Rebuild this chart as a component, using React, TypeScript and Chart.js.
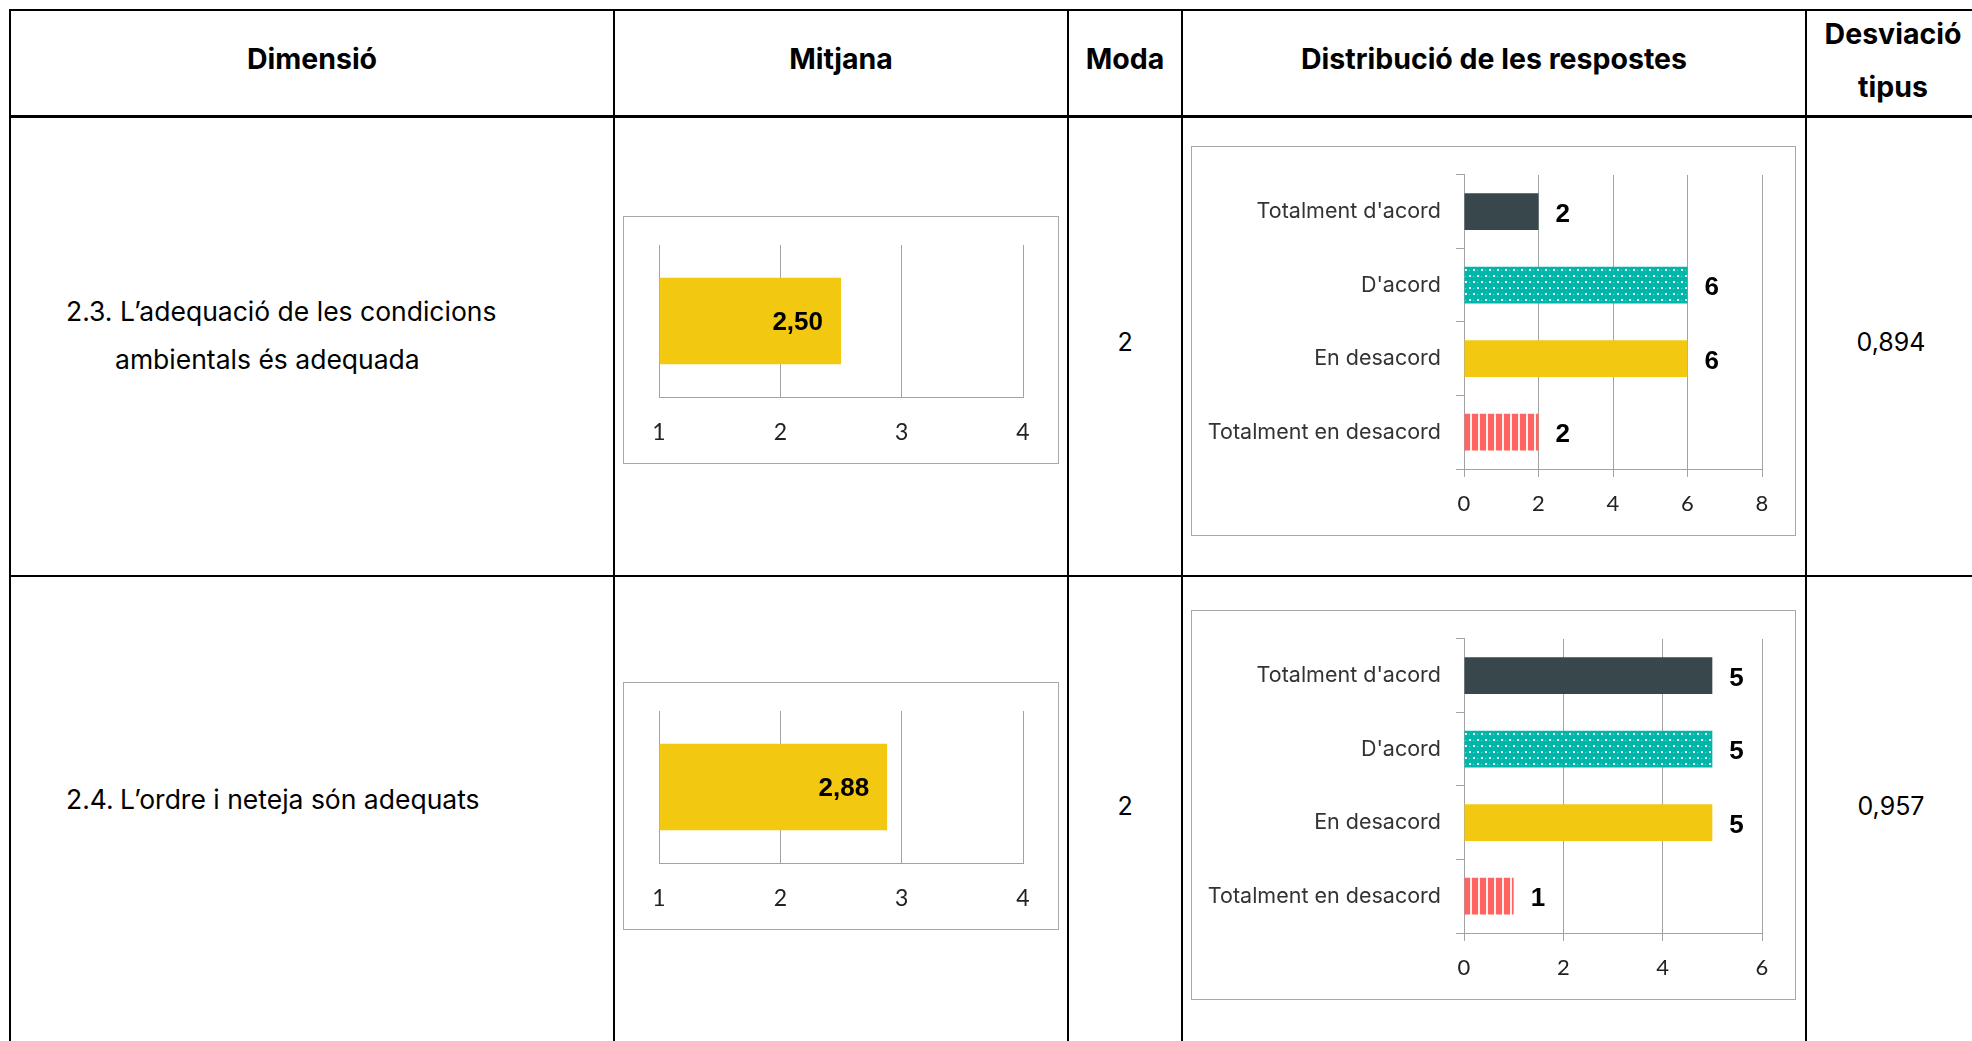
import React, { useEffect, useRef } from "react";
import { Chart, registerables } from "chart.js";

Chart.register(...registerables);

// ---------- data ----------
const headerLabels = ["Dimensió", "Mitjana", "Moda", "Distribució de les respostes"];
const headerLastLines = ["Desviació", "tipus"];
const dimensionNumbers = ["2.3.", "2.4."];
const dimensionFirstLines = ["L’adequació de les condicions", "L’ordre i neteja són adequats"];
const dimensionSecondLines = ["ambientals és adequada", ""];
const meanValues = [2.5, 2.88];
const meanTicks = [1, 2, 3, 4];
const modeValues = ["2", "2"];
const stdValues = ["0,894", "0,957"];
const responseCategories = ["Totalment d'acord", "D'acord", "En desacord", "Totalment en desacord"];
const responses23 = [2, 6, 6, 2];
const responses24 = [5, 5, 5, 1];
const responseAxisMax = [8, 6];

// ---------- styles ----------
const FONT_BODY = "Inter, 'Noto Sans', sans-serif";
const FONT_TICK = "Lato, 'Open Sans', sans-serif";
const FONT_VALUE = "'Liberation Sans', Arial, sans-serif";
const GRID = "#a3a3a3";
const BOX = "#a8a8a8";
const DARK = "#37474b";
const TEAL = "#00b6a9";
const YELLOW = "#f2c811";
const RED = "#ff6461";

function dotsPattern(): CanvasPattern | string {
  const c = document.createElement("canvas");
  c.width = 8;
  c.height = 12;
  const g = c.getContext("2d");
  if (!g) return TEAL;
  g.fillStyle = TEAL;
  g.fillRect(0, 0, 8, 12);
  g.fillStyle = "rgba(255,255,255,0.95)";
  g.fillRect(1, 2, 2, 2);
  g.fillRect(5, 8, 2, 2);
  g.fillStyle = "rgba(255,255,255,0.45)";
  g.fillRect(5, 3, 1, 1);
  g.fillRect(1, 9, 1, 1);
  const p = g.createPattern(c, "repeat");
  return p || TEAL;
}

function stripesPattern(): CanvasPattern | string {
  const c = document.createElement("canvas");
  c.width = 8;
  c.height = 4;
  const g = c.getContext("2d");
  if (!g) return RED;
  g.fillStyle = RED;
  g.fillRect(0, 0, 8, 4);
  g.fillStyle = "rgba(255,255,255,0.9)";
  g.fillRect(6, 0, 2, 4);
  const p = g.createPattern(c, "repeat");
  return p || RED;
}

// ---------- Mitjana chart ----------
function MeanChart({ value, left, top }: { value: number; left: number; top: number }) {
  const ref = useRef<HTMLCanvasElement>(null);
  const W = 434;
  const H = 246;
  useEffect(() => {
    const labelPlugin = {
      id: "meanLabel",
      afterDatasetsDraw(chart: any) {
        const ctx = chart.ctx;
        const meta = chart.getDatasetMeta(0);
        ctx.save();
        ctx.font = `bold 26px ${FONT_VALUE}`;
        ctx.fillStyle = "#000";
        ctx.textAlign = "right";
        ctx.textBaseline = "middle";
        meta.data.forEach((bar: any, i: number) => {
          const v = chart.data.datasets[0].data[i] as number;
          ctx.fillText(v.toFixed(2).replace(".", ","), bar.x - 18, bar.y + 2);
        });
        ctx.restore();
      },
    };
    const chart = new Chart(ref.current!, {
      type: "bar",
      data: {
        labels: [""],
        datasets: [
          {
            data: [value],
            backgroundColor: YELLOW,
            base: 1,
            barPercentage: 0.57,
            categoryPercentage: 1,
          } as any,
        ],
      },
      options: {
        indexAxis: "y",
        animation: false,
        responsive: false,
        maintainAspectRatio: false,
        events: [],
        layout: { padding: { left: 35, right: 35, top: 28, bottom: 0 } },
        plugins: { legend: { display: false }, tooltip: { enabled: false } },
        scales: {
          x: {
            type: "linear",
            min: meanTicks[0],
            max: meanTicks[meanTicks.length - 1],
            afterBuildTicks: (s: any) => {
              s.ticks = meanTicks.map((v) => ({ value: v }));
            },
            ticks: {
              font: { family: FONT_TICK, size: 23 },
              color: "#222",
              padding: 22,
              maxRotation: 0,
            },
            grid: { color: GRID, drawTicks: false, lineWidth: 1 },
            border: { color: GRID },
            afterFit: (s: any) => {
              s.height = 66;
            },
          },
          y: { type: "category", display: false },
        },
      } as any,
      plugins: [labelPlugin],
    });
    return () => chart.destroy();
  }, [value]);
  return (
    <div
      style={{
        position: "absolute",
        left,
        top,
        width: W,
        height: H,
        border: `1px solid ${BOX}`,
        background: "#fff",
      }}
    >
      <canvas ref={ref} width={W} height={H} style={{ display: "block", width: W, height: H }} />
    </div>
  );
}

// ---------- Distribució chart ----------
function DistChart({ values, axisMax, left, top }: { values: number[]; axisMax: number; left: number; top: number }) {
  const ref = useRef<HTMLCanvasElement>(null);
  const W = 603;
  const H = 388;
  useEffect(() => {
    const labelPlugin = {
      id: "distLabel",
      afterDatasetsDraw(chart: any) {
        const ctx = chart.ctx;
        const meta = chart.getDatasetMeta(0);
        ctx.save();
        ctx.font = `bold 26px ${FONT_VALUE}`;
        ctx.fillStyle = "#000";
        ctx.textAlign = "left";
        ctx.textBaseline = "middle";
        meta.data.forEach((bar: any, i: number) => {
          const v = chart.data.datasets[0].data[i] as number;
          ctx.fillText(String(v), bar.x + 17, bar.y + 3);
        });
        ctx.restore();
      },
    };
    const colors = [DARK, dotsPattern(), YELLOW, stripesPattern()];
    const chart = new Chart(ref.current!, {
      type: "bar",
      data: {
        labels: responseCategories,
        datasets: [
          {
            data: values,
            backgroundColor: colors as any,
            barPercentage: 0.5,
            categoryPercentage: 1,
          },
        ],
      },
      options: {
        indexAxis: "y",
        animation: false,
        responsive: false,
        maintainAspectRatio: false,
        events: [],
        layout: { padding: { left: 0, right: 33, top: 26, bottom: 0 } },
        plugins: { legend: { display: false }, tooltip: { enabled: false } },
        scales: {
          x: {
            type: "linear",
            min: 0,
            max: axisMax,
            ticks: {
              stepSize: 2,
              font: { family: FONT_TICK, size: 22 },
              color: "#222",
              padding: 14,
              maxRotation: 0,
            },
            grid: { color: GRID, tickLength: 8, lineWidth: 1 },
            border: { color: GRID },
            afterFit: (s: any) => {
              s.height = 66;
            },
          },
          y: {
            type: "category",
            ticks: {
              font: { family: FONT_BODY, size: 21.5 },
              color: "#333",
              padding: 15,
            },
            grid: { drawOnChartArea: false, tickLength: 8, color: GRID, offset: true },
            border: { color: GRID },
            afterFit: (s: any) => {
              s.width = 272;
            },
          },
        },
      } as any,
      plugins: [labelPlugin],
    });
    return () => chart.destroy();
  }, [values, axisMax]);
  return (
    <div
      style={{
        position: "absolute",
        left,
        top,
        width: W,
        height: H,
        border: `1px solid ${BOX}`,
        background: "#fff",
      }}
    >
      <canvas ref={ref} width={W} height={H} style={{ display: "block", width: W, height: H }} />
    </div>
  );
}

// ---------- table helpers ----------
function HLine({ y, h = 2 }: { y: number; h?: number }) {
  return <div style={{ position: "absolute", left: 9, top: y, width: 1990, height: h, background: "#000" }} />;
}
function VLine({ x }: { x: number }) {
  return <div style={{ position: "absolute", left: x, top: 9, width: 2, height: 1100, background: "#000" }} />;
}
function CenterText({ x, y, children, bold, size }: { x: number; y: number; children: React.ReactNode; bold?: boolean; size: number }) {
  return (
    <div
      style={{
        position: "absolute",
        left: x,
        top: y,
        transform: "translate(-50%, -50%)",
        whiteSpace: "nowrap",
        fontFamily: FONT_BODY,
        fontWeight: bold ? 700 : 400,
        fontSize: size,
        lineHeight: 1,
        color: "#000",
      }}
    >
      {children}
    </div>
  );
}
function LeftText({ x, y, children, size }: { x: number; y: number; children: React.ReactNode; size: number }) {
  return (
    <div
      style={{
        position: "absolute",
        left: x,
        top: y,
        transform: "translateY(-50%)",
        whiteSpace: "nowrap",
        fontFamily: FONT_BODY,
        fontWeight: 400,
        fontSize: size,
        lineHeight: 1,
        color: "#000",
      }}
    >
      {children}
    </div>
  );
}

const colCenters = [312, 841, 1125, 1494];
const rowCenters = [342, 806];

export default function App() {
  const HEAD = 28.5;
  const BODY = 26.5;
  const VAL = 25;
  return (
    <div
      style={{
        position: "fixed",
        left: 0,
        top: 0,
        width: 1972,
        height: 1041,
        overflow: "hidden",
        background: "#fff",
      }}
    >
      {/* grid lines */}
      <HLine y={9} />
      <HLine y={115} h={3} />
      <HLine y={575} />
      <VLine x={9} />
      <VLine x={613} />
      <VLine x={1067} />
      <VLine x={1181} />
      <VLine x={1805} />

      {/* header */}
      {headerLabels.map((t, i) => (
        <CenterText key={t} x={colCenters[i]} y={59} bold size={HEAD}>
          {t}
        </CenterText>
      ))}
      <CenterText x={1893} y={34} bold size={HEAD}>
        {headerLastLines[0]}
      </CenterText>
      <CenterText x={1893} y={87} bold size={HEAD}>
        {headerLastLines[1]}
      </CenterText>

      {/* rows */}
      {rowCenters.map((cy, r) => (
        <React.Fragment key={r}>
          {dimensionSecondLines[r] ? (
            <>
              <LeftText x={66} y={cy - 31} size={BODY}>
                <span style={{ display: "inline-block", width: 54 }}>{dimensionNumbers[r]}</span>
                {dimensionFirstLines[r]}
              </LeftText>
              <LeftText x={115} y={cy + 17} size={BODY}>
                {dimensionSecondLines[r]}
              </LeftText>
            </>
          ) : (
            <LeftText x={66} y={cy - 7} size={BODY}>
              <span style={{ display: "inline-block", width: 54 }}>{dimensionNumbers[r]}</span>
              {dimensionFirstLines[r]}
            </LeftText>
          )}
          <CenterText x={1125} y={cy} size={VAL}>
            {modeValues[r]}
          </CenterText>
          <CenterText x={1891} y={cy} size={VAL}>
            {stdValues[r]}
          </CenterText>
        </React.Fragment>
      ))}

      <MeanChart value={meanValues[0]} left={623} top={216} />
      <MeanChart value={meanValues[1]} left={623} top={682} />
      <DistChart values={responses23} axisMax={responseAxisMax[0]} left={1191} top={146} />
      <DistChart values={responses24} axisMax={responseAxisMax[1]} left={1191} top={610} />
    </div>
  );
}
